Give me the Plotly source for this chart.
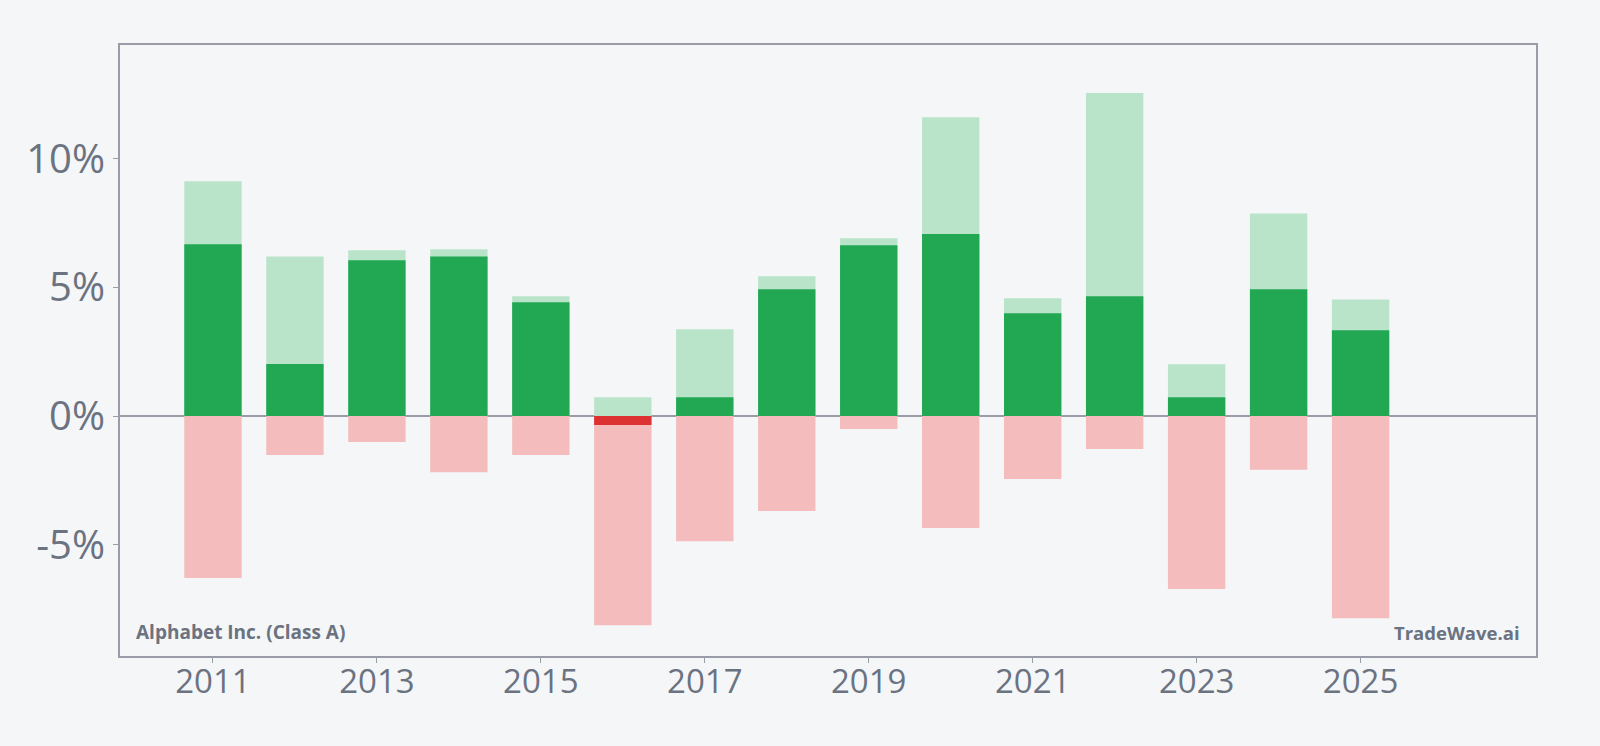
import plotly.graph_objects as go

years = list(range(2011, 2026))
max_gain = [9.12, 6.20, 6.44, 6.48, 4.65, 0.73, 3.37, 5.43, 6.90, 11.60, 4.57, 12.55, 2.01, 7.87, 4.53]
close_ret = [6.67, 2.02, 6.05, 6.20, 4.42, -0.35, 0.73, 4.92, 6.63, 7.07, 3.99, 4.65, 0.73, 4.92, 3.33]
max_drawdown = [-6.29, -1.51, -1.01, -2.18, -1.51, -8.13, -4.86, -3.69, -0.50, -4.35, -2.45, -1.28, -6.72, -2.09, -7.85]

x_ticks = [2011, 2013, 2015, 2017, 2019, 2021, 2023, 2025]
y_ticks = [-5, 0, 5, 10]
y_tick_labels = ["-5%", "0%", "5%", "10%"]

BG = "#f4f6f8"
AXIS = "#9a9ca8"
TXT = "#6b7280"
close_colors = ["#22a853" if v >= 0 else "#dc3232" for v in close_ret]

fig = go.Figure()
fig.add_trace(go.Bar(x=years, y=max_gain, width=0.7, marker=dict(color="#bae4ca", line=dict(width=0)), showlegend=False))
fig.add_trace(go.Bar(x=years, y=max_drawdown, width=0.7, marker=dict(color="#f4bcbc", line=dict(width=0)), showlegend=False))
fig.add_trace(go.Bar(x=years, y=close_ret, width=0.7, marker=dict(color=close_colors, line=dict(width=0)), showlegend=False))

fig.update_layout(
    barmode="overlay",
    width=1600, height=746,
    paper_bgcolor=BG, plot_bgcolor=BG,
    margin=dict(l=120, r=64, t=45, b=90),
    font=dict(family="Open Sans", color=TXT),
    xaxis=dict(
        range=[2009.866, 2027.14], tickmode="array", tickvals=x_ticks,
        ticktext=[str(v) for v in x_ticks],
        showgrid=False, zeroline=False, showline=True, linecolor=AXIS, linewidth=2, mirror=True,
        ticks="outside", ticklen=5, tickcolor=AXIS, tickfont=dict(size=33, color=TXT),
        ticklabelstandoff=-10,
    ),
    yaxis=dict(
        range=[-9.32, 14.41], tickmode="array", tickvals=y_ticks, ticktext=y_tick_labels,
        showgrid=False, zeroline=True, zerolinecolor=AXIS, zerolinewidth=2,
        showline=True, linecolor=AXIS, linewidth=2, mirror=True,
        ticks="outside", ticklen=5, tickcolor=AXIS, tickfont=dict(size=40, color=TXT),
    ),
    annotations=[
        dict(text="<b>Alphabet Inc. (Class A)</b>", xref="paper", yref="paper", x=0.01, y=0.015,
             xanchor="left", yanchor="bottom", showarrow=False, font=dict(size=19, color=TXT)),
        dict(text="<b>TradeWave.ai</b>", xref="paper", yref="paper", x=0.99, y=0.015,
             xanchor="right", yanchor="bottom", showarrow=False, font=dict(size=18.5, color=TXT)),
    ],
)

fig.write_html("out.html")
